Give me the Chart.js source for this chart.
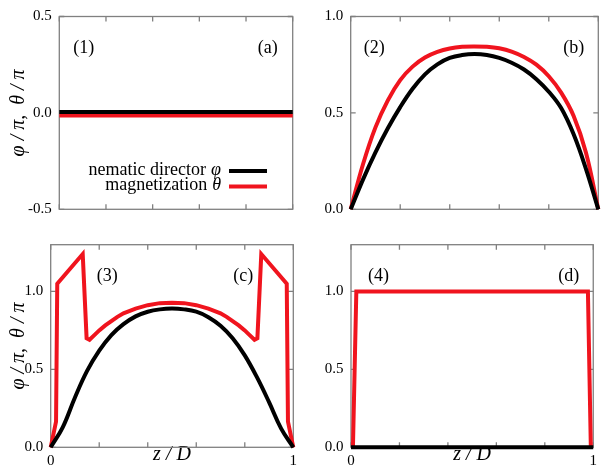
<!DOCTYPE html>
<html><head><meta charset="utf-8">
<script src="https://cdn.jsdelivr.net/npm/chart.js@4.4.1/dist/chart.umd.min.js"></script>
</head>
<body style="margin:0;background:#fff">
<canvas id="warm" width="40" height="20" style="position:absolute;left:-100px;top:0"></canvas>
<canvas id="chartA" width="602" height="472" style="position:absolute;left:0;top:0"></canvas>
<canvas id="chartB" width="602" height="472" style="position:absolute;left:0;top:0"></canvas>
<canvas id="chartC" width="602" height="472" style="position:absolute;left:0;top:0"></canvas>
<canvas id="chartD" width="602" height="472" style="position:absolute;left:0;top:0"></canvas>
<script>
// series labels
const phiLabel = 'nematic director φ';
const thetaLabel = 'magnetization θ';

// panel (a)
const zA = [0, 1];
const phiA = [0.005, 0.005];
const thetaA = [-0.013, -0.013];

// panel (b)
const zB = [0, 0.05, 0.1, 0.15, 0.2, 0.25, 0.3, 0.35, 0.4, 0.45, 0.5, 0.55, 0.6, 0.65, 0.7, 0.75, 0.8, 0.85, 0.9, 0.95, 1];
const phiB = [0, 0.155, 0.295, 0.42, 0.53, 0.625, 0.70, 0.752, 0.785, 0.80, 0.805, 0.80, 0.785, 0.76, 0.725, 0.675, 0.61, 0.525, 0.39, 0.21, 0];
const thetaB = [0, 0.235, 0.425, 0.565, 0.67, 0.74, 0.787, 0.816, 0.834, 0.843, 0.845, 0.843, 0.835, 0.818, 0.79, 0.75, 0.69, 0.605, 0.485, 0.295, 0];

// panel (c)
const zC = [0, 0.05, 0.1, 0.15, 0.2, 0.25, 0.3, 0.35, 0.4, 0.45, 0.5, 0.55, 0.6, 0.65, 0.7, 0.75, 0.8, 0.85, 0.9, 0.95, 1];
const phiC = [0, 0.13, 0.32, 0.49, 0.62, 0.72, 0.79, 0.84, 0.87, 0.885, 0.89, 0.885, 0.87, 0.835, 0.78, 0.70, 0.59, 0.45, 0.29, 0.12, 0];
const zThetaC = [0, 0.022, 0.027, 0.132, 0.148, 0.16, 0.18, 0.2, 0.225, 0.25, 0.275, 0.3, 0.35, 0.4, 0.45, 0.5, 0.55, 0.6, 0.65, 0.7, 0.725, 0.75, 0.775, 0.8, 0.82, 0.84, 0.852, 0.868, 0.973, 0.978, 1];
const thetaC = [0, 0.165, 1.05, 1.24, 0.70, 0.69, 0.72, 0.75, 0.782, 0.81, 0.837, 0.86, 0.89, 0.912, 0.925, 0.928, 0.925, 0.912, 0.89, 0.86, 0.837, 0.81, 0.782, 0.75, 0.72, 0.69, 0.70, 1.24, 1.05, 0.165, 0];

// panel (d)
const zD = [0, 1];
const phiD = [0, 0];
const zThetaD = [0.008, 0.022, 0.978, 0.99];
const thetaD = [0, 1, 1, 0];

// axes
const xStep = 0.2;
const yStep = 0.5;
const xEndLabels = ['0', '1'];
const xTitle = 'z / D';
const yTitle = 'φ / π,  θ / π';

const black = '#000000';
const red = '#f0141e';
const frameColor = '#808080';
const fontFam = "'Liberation Serif'";

// draw with the serif font once (fillText, not just measureText) before Chart.js lays out
const warm = document.getElementById('warm').getContext('2d');
['15px ', '18px ', '20px ', 'italic 18px ', 'italic 20px '].forEach(f => {
    warm.font = f + fontFam;
    warm.fillText('nematic 0.5 (1) φ θ π z D', 0, 15);
});

function toPoints(xs, ys) {
    return xs.map((x, i) => ({ x: x, y: ys[i] }));
}

function series(label, xs, ys, color, smooth) {
    return {
        label: label,
        data: toPoints(xs, ys),
        borderColor: color,
        backgroundColor: color,
        borderWidth: 4,
        pointRadius: 0,
        fill: false,
        tension: smooth ? 0.4 : 0,
        clip: 4
    };
}

// frame with inward ticks on all four sides
const frameTicks = {
    id: 'frameTicks',
    beforeDatasetsDraw(chart) {
        const { ctx, chartArea: a, scales: { x, y } } = chart;
        ctx.save();
        ctx.strokeStyle = frameColor;
        ctx.lineWidth = 1.3;
        ctx.strokeRect(a.left, a.top, a.right - a.left, a.bottom - a.top);
        ctx.beginPath();
        x.ticks.forEach(t => {
            const px = x.getPixelForValue(t.value);
            ctx.moveTo(px, a.bottom); ctx.lineTo(px, a.bottom - 5);
            ctx.moveTo(px, a.top); ctx.lineTo(px, a.top + 5);
        });
        y.ticks.forEach(t => {
            const py = y.getPixelForValue(t.value);
            ctx.moveTo(a.left, py); ctx.lineTo(a.left + 5, py);
            ctx.moveTo(a.right, py); ctx.lineTo(a.right - 5, py);
        });
        ctx.stroke();
        ctx.restore();
    }
};

// "(1)" ... "(a)" tags inside each panel
const panelTags = {
    id: 'panelTags',
    afterDraw(chart, args, opts) {
        if (!opts.left) return;
        const { ctx, chartArea: a } = chart;
        ctx.save();
        ctx.font = '18px ' + fontFam;
        ctx.fillStyle = '#000';
        ctx.textBaseline = 'middle';
        ctx.textAlign = 'left';
        ctx.fillText(opts.left, a.left + opts.dl, a.top + 32);
        ctx.textAlign = 'right';
        ctx.fillText(opts.right, a.right - opts.dr, a.top + 32);
        ctx.restore();
    }
};

// legend: right aligned text, line sample on the right
const sideLegend = {
    id: 'sideLegend',
    afterDraw(chart, args, opts) {
        if (!opts.show) return;
        const { ctx, chartArea: a } = chart;
        ctx.save();
        ctx.textBaseline = 'middle';
        chart.data.datasets.forEach((ds, i) => {
            const yy = a.top + opts.top + i * opts.rowGap;
            const xr = a.left + opts.textRight;
            const cut = ds.label.lastIndexOf(' ');
            const word = ds.label.slice(0, cut);
            const sym = ds.label.slice(cut + 1);
            ctx.fillStyle = '#000';
            ctx.textAlign = 'right';
            ctx.font = 'italic 18px ' + fontFam;
            const symW = ctx.measureText(sym).width;
            ctx.fillText(sym, xr, yy);
            ctx.font = '18px ' + fontFam;
            ctx.fillText(word, xr - symW - 5, yy);
            ctx.strokeStyle = ds.borderColor;
            ctx.lineWidth = 4;
            ctx.beginPath();
            ctx.moveTo(xr + 8, yy + 1);
            ctx.lineTo(xr + 46, yy + 1);
            ctx.stroke();
        });
        ctx.restore();
    }
};

function makePanel(id, cfg) {
    return new Chart(document.getElementById(id), {
        type: 'line',
        data: { datasets: cfg.datasets },
        plugins: [frameTicks, panelTags, sideLegend],
        options: {
            responsive: false,
            animation: false,
            layout: { padding: cfg.padding },
            plugins: {
                legend: { display: false },
                tooltip: { enabled: false },
                panelTags: cfg.tags,
                sideLegend: cfg.legend || { show: false }
            },
            scales: {
                x: {
                    type: 'linear',
                    min: 0,
                    max: 1,
                    grid: { display: false, drawTicks: false },
                    border: { display: false },
                    ticks: {
                        display: cfg.bottom,
                        stepSize: xStep,
                        autoSkip: false,
                        maxRotation: 0,
                        padding: 5,
                        color: '#000',
                        font: { family: fontFam, size: 15 },
                        callback: v => v === 0 ? xEndLabels[0] : (Math.abs(v - 1) < 1e-9 ? xEndLabels[1] : '')
                    },
                    title: {
                        display: cfg.bottom,
                        text: xTitle,
                        color: '#000',
                        font: { family: fontFam, size: 20, style: 'italic', lineHeight: 1.35 }
                    },
                    afterFit: s => { s.height = cfg.xHeight; }
                },
                y: {
                    type: 'linear',
                    min: cfg.yMin,
                    max: cfg.yMax,
                    grid: { display: false, drawTicks: false },
                    border: { display: false },
                    ticks: {
                        stepSize: yStep,
                        includeBounds: false,
                        padding: 7.5,
                        color: '#000',
                        font: { family: fontFam, size: 15 },
                        callback: v => v.toFixed(1)
                    },
                    title: {
                        display: cfg.left,
                        text: yTitle,
                        color: '#000',
                        font: { family: fontFam, size: 20, style: 'italic', lineHeight: 1.5 }
                    },
                    afterFit: s => { s.width = cfg.yWidth; }
                }
            }
        }
    });
}

makePanel('chartA', {
    datasets: [series(phiLabel, zA, phiA, black, false), series(thetaLabel, zA, thetaA, red, false)],
    padding: { left: 0, top: 7.3, right: 309.3, bottom: 262.7 },
    yMin: -0.5, yMax: 0.5, yWidth: 59.3, xHeight: 0,
    left: true, bottom: false,
    tags: { left: '(1)', right: '(a)', dl: 14, dr: 15 },
    legend: { show: true, top: 153.4, rowGap: 15.5, textRight: 161.7 }
});

makePanel('chartB', {
    datasets: [series(phiLabel, zB, phiB, black, true), series(thetaLabel, zB, thetaB, red, true)],
    padding: { left: 300, top: 7.3, right: 3.7, bottom: 262.7 },
    yMin: 0, yMax: 1, yWidth: 50.7, xHeight: 0,
    left: false, bottom: false,
    tags: { left: '(2)', right: '(b)', dl: 13, dr: 14 }
});

makePanel('chartC', {
    datasets: [series(phiLabel, zC, phiC, black, true), series(thetaLabel, zThetaC, thetaC, red, false)],
    padding: { left: 0, top: 244.7, right: 308.7, bottom: 0 },
    yMin: 0, yMax: 1.3, yWidth: 50.7, xHeight: 24.7,
    left: true, bottom: true,
    tags: { left: '(3)', right: '(c)', dl: 46, dr: 40 }
});

makePanel('chartD', {
    datasets: [series(phiLabel, zD, phiD, black, false), series(thetaLabel, zThetaD, thetaD, red, false)],
    padding: { left: 300, top: 244.7, right: 4.3, bottom: 0 },
    yMin: 0, yMax: 1.3, yWidth: 51, xHeight: 24.7,
    left: false, bottom: true,
    tags: { left: '(4)', right: '(d)', dl: 17, dr: 14 }
});
</script>
</body>
</html>
